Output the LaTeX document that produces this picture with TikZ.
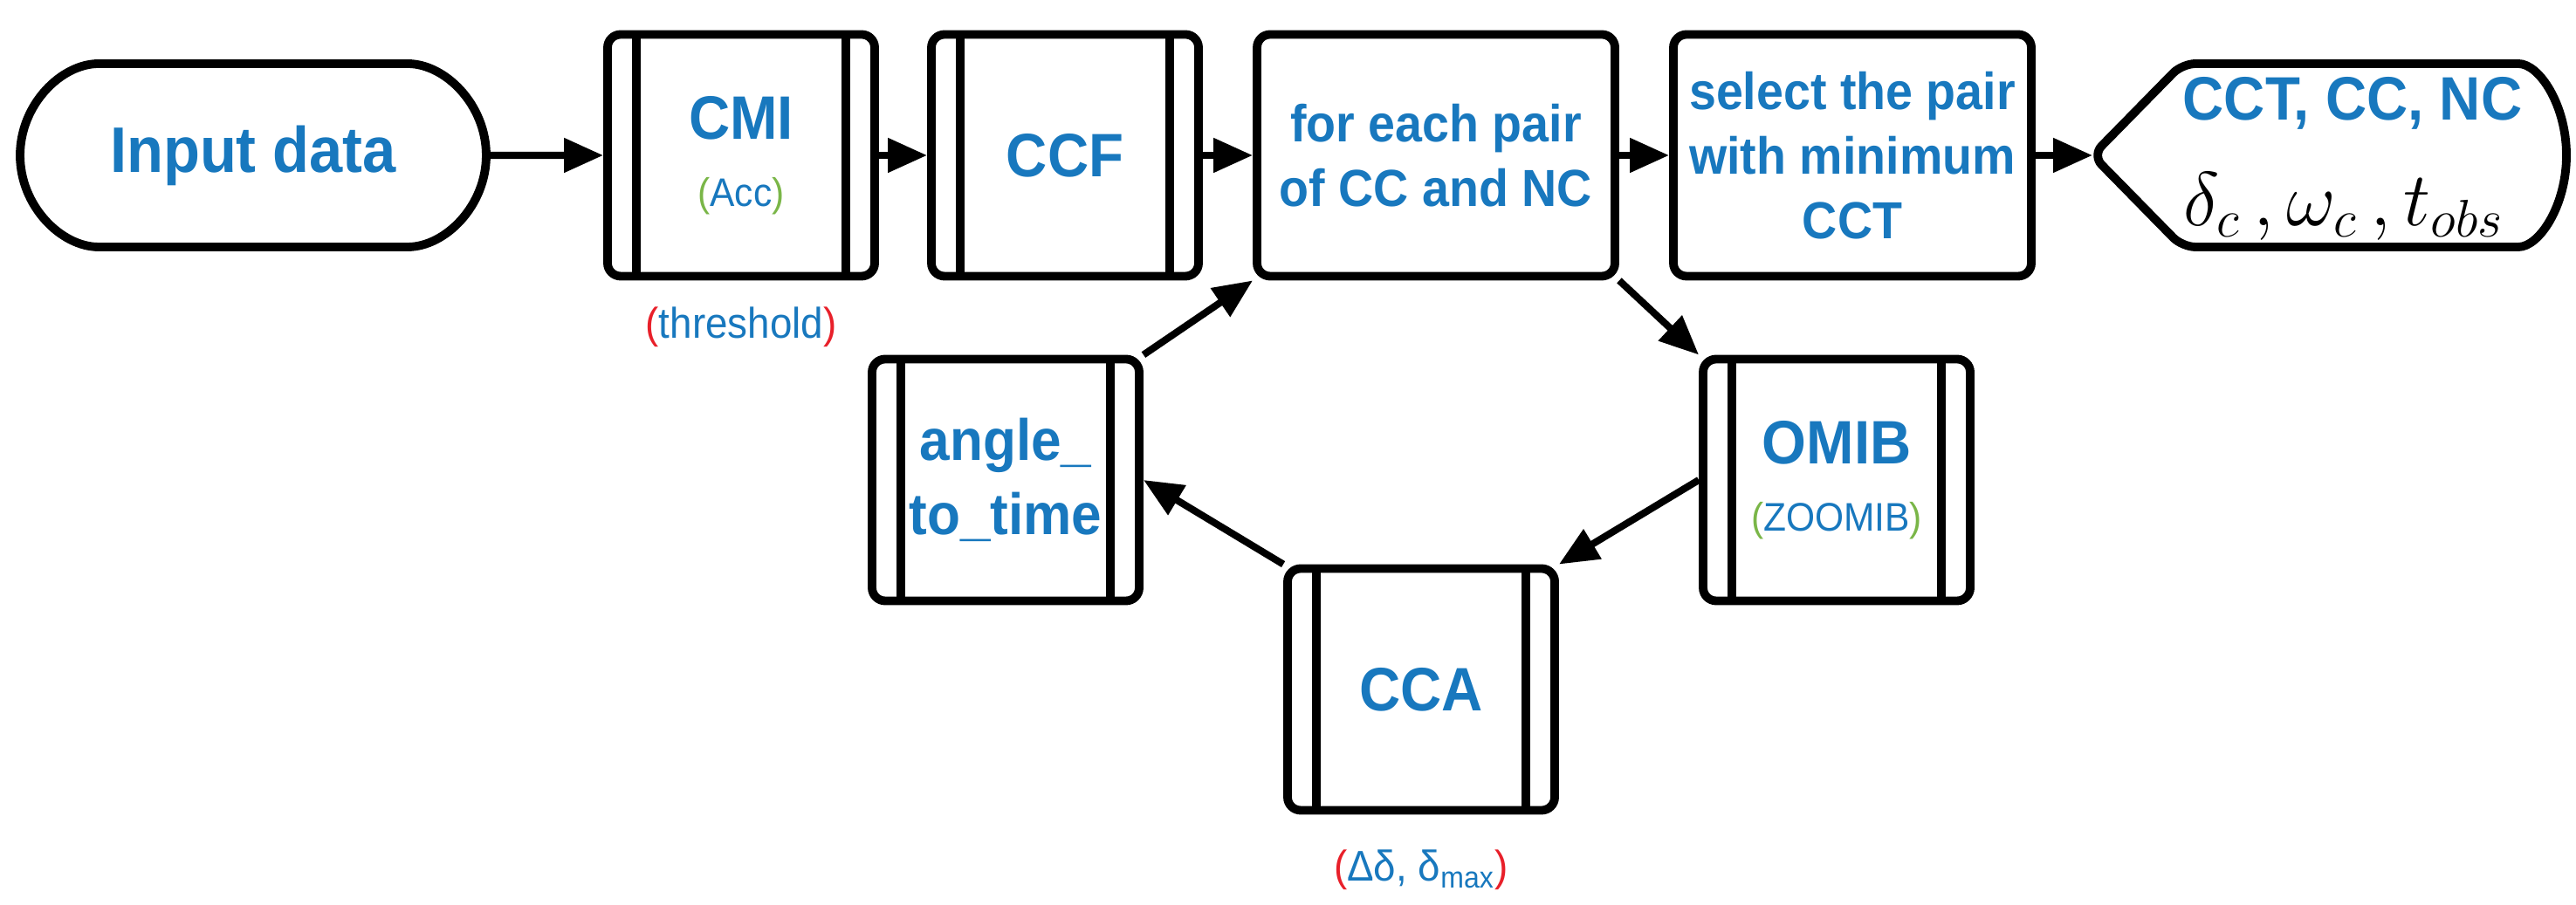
\documentclass[tikz,border=0pt]{standalone}
\usepackage{fontspec}
\setmainfont{Liberation Sans}[FakeStretch=0.93]
\usetikzlibrary{shapes.misc,arrows.meta}
\definecolor{txtblue}{RGB}{24,120,190}
\definecolor{pgreen}{RGB}{122,182,72}
\definecolor{pred}{RGB}{232,32,42}
\tikzset{
    box/.style={draw, line width=2.8pt, rounded corners=0.15cm, minimum height=2.77cm, inner sep=1pt,
        align=center, text=txtblue, font=\fontsize{20}{24}\selectfont\bfseries},
    wide/.style={box, minimum width=4.10cm, font=\fontsize{17}{21}\selectfont\bfseries},
    sub/.style={box, minimum width=3.06cm, path picture={
        \draw[line width=2.8pt] ([xshift=0.33cm]path picture bounding box.north west)
            -- ([xshift=0.33cm]path picture bounding box.south west);
        \draw[line width=2.8pt] ([xshift=-0.33cm]path picture bounding box.north east)
            -- ([xshift=-0.33cm]path picture bounding box.south east);}},
    arr/.style={line width=2.3pt, -{Triangle[length=0.45cm, width=0.38cm]}},
    note/.style={font=\fontsize{14}{16}\selectfont, text=txtblue}
}
\begin{document}
\begin{tikzpicture}
    \useasboundingbox (0, 0) rectangle (29.51, 10.37);
    % top row
    \node[box, rounded rectangle, minimum width=5.41cm, minimum height=2.1cm, font=\fontsize{21}{24}\selectfont\bfseries] (input) at (2.90, 8.59) {Input data};
    \node[sub] (cmi) at (8.49, 8.59) {CMI\\[-2pt]{\normalfont\fontsize{13}{15}\selectfont\textcolor{pgreen}{(}Acc\textcolor{pgreen}{)}}};
    \node[sub] (ccf) at (12.20, 8.59) {CCF};
    \node[wide] (pair) at (16.45, 8.59) {for each pair\\of CC and NC};
    \node[wide] (select) at (21.22, 8.59) {select the pair\\with minimum\\CCT};
    % output
    \coordinate (outtip) at (23.97, 8.59);
    \draw[line width=2.8pt, rounded corners=0.15cm] (outtip) -- (25.0, 9.64) -- (28.7, 9.64)
        arc[start angle=90, end angle=-90, x radius=0.7cm, y radius=1.05cm] -- (25.0, 7.54) -- cycle;
    \node[text=txtblue, font=\fontsize{20}{24}\selectfont\bfseries] (outtop) at (26.95, 9.19) {CCT, CC, NC};
    \node[font=\fontsize{23}{26}\selectfont] (outmath) at (26.85, 8.0) {$\delta_c\,, \omega_c\,, t_{obs}$};
    \node[note] (thr) at (8.49, 6.62) {\textcolor{pred}{(}threshold\textcolor{pred}{)}};
    % loop
    \node[sub] (omib) at (21.04, 4.87) {OMIB\\[-2pt]{\normalfont\fontsize{13}{15}\selectfont\textcolor{pgreen}{(}ZOOMIB\textcolor{pgreen}{)}}};
    \node[sub] (cca) at (16.28, 2.47) {CCA};
    \node[sub, font=\fontsize{19}{24}\selectfont\bfseries] (att) at (11.52, 4.87) {angle\_\\to\_time};
    \node[note] (dlt) at (16.28, 0.40) {\textcolor{pred}{(}Δδ, δ\textsubscript{max}\textcolor{pred}{)}};
    % connectors
    \draw[arr] (input) -- (cmi);
    \draw[arr] (cmi) -- (ccf);
    \draw[arr] (ccf) -- (pair);
    \draw[arr] (pair) -- (select);
    \draw[arr] (select) -- (outtip);
    \draw[arr] (pair.south east) -- (omib.north west);
    \draw[arr] (omib.west) -- (cca.north east);
    \draw[arr] (cca.north west) -- (att.east);
    \draw[arr] (att.north east) -- (pair.south west);
\end{tikzpicture}
\end{document}
